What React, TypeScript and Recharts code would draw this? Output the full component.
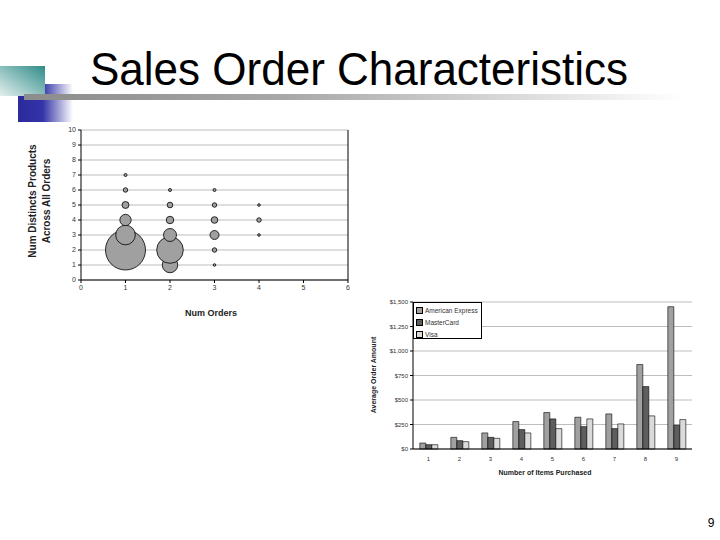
import React from 'react';
import {
  ScatterChart,
  Scatter,
  BarChart,
  Bar,
  XAxis,
  YAxis,
  ZAxis,
  CartesianGrid,
  ReferenceLine,
  Legend,
} from 'recharts';

// bubble chart: orders per customer vs distinct products, z = bubble weight
const bubbleX = [1, 1, 1, 1, 1, 1, 2, 2, 2, 2, 2, 2, 3, 3, 3, 3, 3, 3, 4, 4, 4];
const bubbleY = [2, 3, 4, 5, 6, 7, 1, 2, 3, 4, 5, 6, 1, 2, 3, 4, 5, 6, 3, 4, 5];
const bubbleZ = [400, 96, 32, 12, 5, 2.3, 60, 177, 42, 14, 8, 2.3, 1.7, 5, 20, 11, 5, 2.3, 1.7, 5, 1.7];

const xTicks = [0, 1, 2, 3, 4, 5, 6];
const yTicks = [0, 1, 2, 3, 4, 5, 6, 7, 8, 9, 10];

// bar chart: average order amount by items purchased
const itemCounts = ['1', '2', '3', '4', '5', '6', '7', '8', '9'];
const amex = [61, 119, 164, 280, 372, 324, 358, 862, 1452];
const masterCard = [44, 85, 119, 198, 307, 228, 208, 637, 242];
const visa = [44, 75, 109, 164, 208, 307, 256, 338, 300];
const amountTicks = [0, 250, 500, 750, 1000, 1250, 1500];

const bubbles = bubbleX.map((x, i) => ({ x, y: bubbleY[i], z: bubbleZ[i] }));
const bars = itemCounts.map((n, i) => ({
  n,
  amex: amex[i],
  mc: masterCard[i],
  visa: visa[i],
}));

const font = '"Liberation Sans", Arial, sans-serif';
const tickStyle = { fontSize: 7, fill: '#333', fontFamily: font };
const smallTick = { fontSize: 6, fill: '#333', fontFamily: font };

const money = (v: number) => '$' + v.toLocaleString('en-US');

function LegendBox({ payload }: any) {
  return (
    <div
      style={{
        width: 69,
        height: 37,
        border: '1px solid #000',
        background: '#fff',
        fontFamily: font,
        fontSize: 6.5,
        color: '#333',
        boxSizing: 'border-box',
        paddingTop: 1,
        paddingLeft: 2,
      }}
    >
      {(payload || []).map((p: any) => (
        <div key={p.value} style={{ display: 'flex', alignItems: 'center', height: 12 }}>
          <span
            style={{
              display: 'inline-block',
              width: 5,
              height: 5,
              background: p.color,
              border: '0.6px solid #000',
              marginRight: 2,
            }}
          />
          <span style={{ color: '#333' }}>{p.value}</span>
        </div>
      ))}
    </div>
  );
}

const abs = (s: React.CSSProperties): React.CSSProperties => ({ position: 'absolute', ...s });

export default function App() {
  return (
    <div style={abs({ left: 0, top: 0, width: 720, height: 540, background: '#fff', overflow: 'hidden' })}>
      {/* slide decoration */}
      <svg width={720} height={540} style={abs({ left: 0, top: 0 })}>
        <defs>
          <linearGradient id="blue" x1="0" y1="0" x2="1" y2="0">
            <stop offset="0" stopColor="#2a2a9c" />
            <stop offset="0.45" stopColor="#3434a8" />
            <stop offset="1" stopColor="#ffffff" />
          </linearGradient>
          <linearGradient id="teal" x1="1" y1="0" x2="0" y2="1">
            <stop offset="0" stopColor="#2f8c88" />
            <stop offset="1" stopColor="#e4f0ef" />
          </linearGradient>
          <linearGradient id="gray" x1="0" y1="0" x2="1" y2="0">
            <stop offset="0" stopColor="#8c8c8c" />
            <stop offset="0.4" stopColor="#a8a8a8" />
            <stop offset="1" stopColor="#ffffff" />
          </linearGradient>
        </defs>
        <rect x={18} y={84} width={55} height={38} fill="url(#blue)" />
        <rect x={0} y={66} width={45} height={30} fill="url(#teal)" />
        <rect x={24} y={94} width={660} height={6} fill="url(#gray)" />
        <text
          x={90}
          y={85}
          fontSize={46}
          fontFamily={font}
          textLength={538}
          lengthAdjust="spacingAndGlyphs"
          fill="#000"
        >
          Sales Order Characteristics
        </text>
        <text x={711} y={527} fontSize={12} fontFamily={font} textAnchor="middle" fill="#000">
          9
        </text>
      </svg>

      <div style={abs({ left: 0, top: 0 })}>
        <ScatterChart width={360} height={330} margin={{ top: 130, right: 12, bottom: 30, left: 61 }}>
          <CartesianGrid vertical={false} stroke="#bdbdbd" />
          <XAxis
            type="number"
            dataKey="x"
            domain={[0, 6]}
            ticks={xTicks}
            interval={0}
            height={20}
            tick={tickStyle}
            tickSize={3}
            stroke="#000"
          />
          <YAxis
            type="number"
            dataKey="y"
            domain={[0, 10]}
            ticks={yTicks}
            interval={0}
            width={20}
            tick={tickStyle}
            tickSize={3}
            stroke="#000"
          />
          <ZAxis type="number" dataKey="z" domain={[0, 400]} range={[0, 400 * Math.PI]} />
          <ReferenceLine x={6} stroke="#000" />
          <Scatter
            data={bubbles}
            fill="#a0a0a0"
            stroke="#000"
            strokeWidth={0.8}
            isAnimationActive={false}
          />
        </ScatterChart>
      </div>
      <div
        style={abs({
          left: 40,
          top: 201,
          width: 0,
          height: 0,
          fontFamily: font,
          fontWeight: 'bold',
          fontSize: 10,
          color: '#222',
        })}
      >
        <div
          style={abs({
            left: -70,
            top: -14,
            width: 140,
            textAlign: 'center',
            lineHeight: '14px',
            transform: 'rotate(-90deg)',
          })}
        >
          Num Distincts Products
          <br />
          Across All Orders
        </div>
      </div>
      <div
        style={abs({
          left: 151,
          top: 308,
          width: 120,
          textAlign: 'center',
          fontFamily: font,
          fontWeight: 'bold',
          fontSize: 9,
          color: '#222',
        })}
      >
        Num Orders
      </div>

      <div style={abs({ left: 360, top: 290 })}>
        <BarChart
          width={340}
          height={200}
          data={bars}
          margin={{ top: 12, right: 8, bottom: 21, left: 23 }}
          barCategoryGap="22%"
          barGap={0}
        >
          <CartesianGrid vertical={false} stroke="#bdbdbd" />
          <XAxis dataKey="n" height={20} tick={smallTick} tickLine={false} stroke="#000" />
          <YAxis
            domain={[0, 1500]}
            ticks={amountTicks}
            interval={0}
            width={30}
            tick={smallTick}
            tickSize={3}
            tickFormatter={money}
            stroke="#000"
          />
          <YAxis yAxisId="frame" orientation="right" width={0} tick={false} stroke="#000" />
          <Legend
            layout="horizontal"
            align="center"
            verticalAlign="middle"
            content={<LegendBox />}
            wrapperStyle={{ left: 53, top: 12, width: 69, height: 37 }}
          />
          <Bar dataKey="amex" name="American Express" fill="#a0a0a0" stroke="#000" strokeWidth={0.6} isAnimationActive={false} />
          <Bar dataKey="mc" name="MasterCard" fill="#5e5e5e" stroke="#000" strokeWidth={0.6} isAnimationActive={false} />
          <Bar dataKey="visa" name="Visa" fill="#dadada" stroke="#000" strokeWidth={0.6} isAnimationActive={false} />
        </BarChart>
      </div>
      <div style={abs({ left: 374, top: 375, width: 0, height: 0, fontFamily: font, fontWeight: 'bold', fontSize: 7, color: '#222' })}>
        <div style={abs({ left: -50, top: -5, width: 100, textAlign: 'center', lineHeight: '10px', transform: 'rotate(-90deg)' })}>
          Average Order Amount
        </div>
      </div>
      <div
        style={abs({
          left: 485,
          top: 469,
          width: 120,
          textAlign: 'center',
          fontFamily: font,
          fontWeight: 'bold',
          fontSize: 7,
          color: '#222',
        })}
      >
        Number of Items Purchased
      </div>
    </div>
  );
}
